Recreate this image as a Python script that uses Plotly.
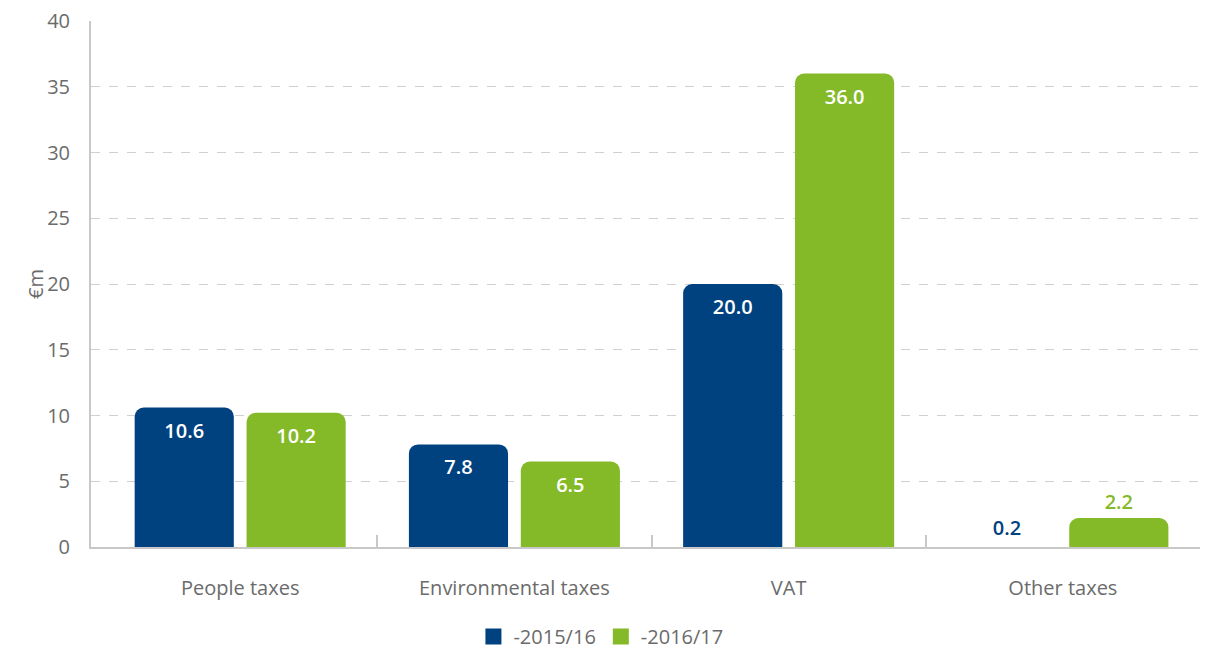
import plotly.graph_objects as go

categories = ["People taxes", "Environmental taxes", "VAT", "Other taxes"]
series_names = ["-2015/16", "-2016/17"]
values_2015 = [10.6, 7.8, 20.0, 0.2]
values_2016 = [10.2, 6.5, 36.0, 2.2]
label_pos = ["inside", "inside", "inside", "outside"]
y_title = "€m"

BLUE = "#00427F"
GREEN = "#84BA27"
GREY = "#6b6b6b"
FONT = "'Open Sans', 'Noto Sans', sans-serif"

fig = go.Figure()
for name, vals, col, op in [
    (series_names[0], values_2015, BLUE, [1, 1, 1, 0]),
    (series_names[1], values_2016, GREEN, [1, 1, 1, 1]),
]:
    fig.add_trace(go.Bar(
        x=categories, y=vals, name=name, showlegend=False,
        marker=dict(color=col, opacity=op, line=dict(width=0)),
        text=[f"{v:.1f}" for v in vals],
        textposition=label_pos,
        insidetextanchor="end",
        textangle=0,
        insidetextfont=dict(color="white", size=20, family=FONT, weight=600),
        outsidetextfont=dict(color=col, size=20, family=FONT, weight=600),
        cliponaxis=False,
    ))
# legend entries (square swatches)
for name, col in [(series_names[0], BLUE), (series_names[1], GREEN)]:
    fig.add_trace(go.Scatter(
        x=[None], y=[None], mode="markers", name=name,
        marker=dict(symbol="square", size=17, color=col),
    ))
# empty trace so that the category-boundary tick axis is drawn
fig.add_trace(go.Scatter(x=[None], y=[None], xaxis="x2", showlegend=False,
                         hoverinfo="skip", mode="markers"))

xr = [-0.544, 3.5]
fig.update_layout(
    width=1214, height=649,
    margin=dict(l=91, r=14, t=21, b=102, autoexpand=False),
    plot_bgcolor="white", paper_bgcolor="white",
    barmode="group", bargap=0.184, bargroupgap=0.114,
    barcornerradius=9,
    font=dict(family=FONT, color=GREY, size=20),
    showlegend=True,
    legend=dict(orientation="h", xref="container", x=0.495, xanchor="center",
                y=-0.17, yanchor="middle",
                font=dict(size=20, color=GREY, family=FONT), itemwidth=30,
                traceorder="normal", itemsizing="trace", tracegroupgap=0),
    xaxis=dict(range=xr, showline=True, linecolor="#c8c8c8", linewidth=2,
               ticks="", showgrid=False, tickfont=dict(size=20, color=GREY),
               ticklabelstandoff=22, automargin=False),
    xaxis2=dict(range=xr, overlaying="x", anchor="y", side="bottom", type="linear",
                tickvals=[0.5, 1.5, 2.5, 3.5], ticks="inside", ticklen=12,
                tickcolor="#c8c8c8", tickwidth=2, showticklabels=False,
                showgrid=False, showline=False, zeroline=False, automargin=False),
    yaxis=dict(range=[0, 40], dtick=5, showline=True, linecolor="#c8c8c8", linewidth=2,
               showgrid=True, gridcolor="#d0d0d0", griddash="dash", gridwidth=1,
               zeroline=False, tickfont=dict(size=20, color=GREY),
               ticklabelstandoff=15, automargin=False),
    annotations=[dict(text=y_title, xref="paper", yref="paper", x=-0.0505, y=0.5,
                      xanchor="center", yanchor="middle", textangle=-90,
                      showarrow=False, font=dict(size=20, color=GREY, family=FONT))],
)

fig.write_html("out.html", config={"displayModeBar": False},
               post_script="document.body.style.margin='0';document.body.style.overflow='hidden';")
